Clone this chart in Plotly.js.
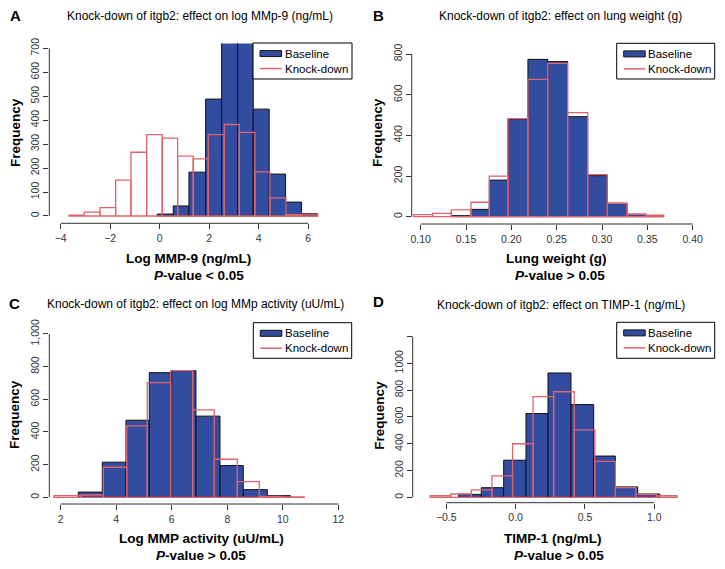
<!DOCTYPE html>
<html><head><meta charset="utf-8">
<script src="https://cdn.plot.ly/plotly-3.0.1.min.js"></script>
<style>html,body{margin:0;padding:0;background:#fff}</style>
</head><body><div id="chart" style="width:725px;height:569px"></div>
<script>
// ---------- DATA ----------
// Panel A: log MMP-9
const aBaseEdges = [-0.10, 0.548, 1.182, 1.856, 2.502, 3.149, 3.779, 4.425, 5.087, 5.733, 6.380];
const aBaseCounts = [8, 42, 183, 488, 780, 780, 446, 175, 58, 10];
const aKdEdges = [-3.665, -3.047, -2.413, -1.779, -1.161, -0.527, 0.103, 0.725, 1.355, 1.961, 2.607, 3.213, 3.847, 4.452, 5.098, 5.733, 6.380];
const aKdCounts = [4, 16, 35, 150, 266, 340, 325, 250, 238, 340, 382, 349, 184, 76, 6, 8];
const aXTicks = [-4, -2, 0, 2, 4, 6];
const aYTicks = [0, 100, 200, 300, 400, 500, 600, 700];
const aYTickText = ["0", "100", "200", "300", "400", "500", "600", "700"];

// Panel B: lung weight
const bBaseEdges = [0.1337, 0.1555, 0.1757, 0.1963, 0.2183, 0.2401, 0.2621, 0.2842, 0.3058, 0.3275, 0.3485, 0.368];
const bBaseCounts = [5, 36, 180, 480, 774, 763, 492, 202, 66, 12, 5];
const bKdEdges = [0.0923, 0.1132, 0.1337, 0.1555, 0.1757, 0.1963, 0.2183, 0.2401, 0.2621, 0.2842, 0.3058, 0.3275, 0.3485, 0.368];
const bKdCounts = [10, 16, 33, 71, 200, 482, 676, 754, 512, 207, 66, 12, 7];
const bXTicks = [0.10, 0.15, 0.20, 0.25, 0.30, 0.35, 0.40];
const bYTicks = [0, 200, 400, 600, 800];
const bYTickText = ["0", "200", "400", "600", "800"];

// Panel C: log MMP activity
const cBaseEdges = [2.634, 3.498, 4.351, 5.190, 5.997, 6.872, 7.736, 8.575, 9.440, 10.282];
const cBaseCounts = [32, 215, 472, 763, 775, 497, 194, 47, 10];
const cKdEdges = [1.759, 2.731, 3.534, 4.377, 5.118, 5.961, 6.753, 7.531, 8.359, 9.152, 9.955, 10.772];
const cKdCounts = [10, 14, 184, 437, 702, 775, 535, 233, 96, 6, 2];
const cXTicks = [2, 4, 6, 8, 10, 12];
const cYTicks = [0, 200, 400, 600, 800, 1000];
const cYTickText = ["0", "200", "400", "600", "800", "1,000"];

// Panel D: TIMP-1
const dBaseEdges = [-0.4106, -0.2476, -0.0861, 0.0747, 0.2334, 0.3992, 0.563, 0.7187, 0.8803, 1.0389];
const dBaseCounts = [22, 72, 277, 625, 928, 692, 308, 78, 25];
const dKdEdges = [-0.615, -0.467, -0.319, -0.171, -0.022, 0.126, 0.274, 0.423, 0.571, 0.719, 0.867, 1.016, 1.164];
const dKdCounts = [12, 25, 55, 160, 400, 752, 788, 503, 268, 72, 22, 12];
const dXTicks = [-0.5, 0.0, 0.5, 1.0];
const dXTickText = ["\u22120.5", "0.0", "0.5", "1.0"];
const dYTicks = [0, 200, 400, 600, 800, 1000, 1200];
const dYTickText = ["0", "200", "400", "600", "800", "1000", ""];

const seriesNames = ["Baseline", "Knock-down"];
const panelTitles = [
  "Knock-down of itgb2: effect on log MMp-9 (ng/mL)",
  "Knock-down of itgb2: effect on lung weight (g)",
  "Knock-down of itgb2: effect on log MMp activity (uU/mL)",
  "Knock-down of itgb2: effect on TIMP-1 (ng/mL)"
];
const xTitles = ["Log MMP-9 (ng/mL)", "Lung weight (g)", "Log MMP activity (uU/mL)", "TIMP-1 (ng/mL)"];
const pTexts = ["&lt; 0.05", "&gt; 0.05", "&gt; 0.05", "&gt; 0.05"];
const letters = ["A", "B", "C", "D"];

// ---------- STYLE / LAYOUT ----------
const W = 725, H = 569;
const FONT = "Liberation Sans, Arial, Helvetica, sans-serif";
const BLUE = "rgb(50,77,160)";
const RED = "rgb(222,100,108)";
const AX = "#333";
const LEGFONT = 11.5;

// pixel geometry of each plot region [left, right, top, bottom] and ranges
const panels = [
  {px:[49.3, 352, 43.5, 223.3], xr:[-4.46, 7.77], yr:[-30.5, 720],
   be:aBaseEdges, bc:aBaseCounts, ke:aKdEdges, kc:aKdCounts,
   xt:aXTicks, xtt:null, xfmt:"", yt:aYTicks, ytt:aYTickText,
   leg:[253, 43, 352, 79], title:[200, 16], letter:[15, 15], freq:[15, 133], xtitle:[188, 258.5], p:[199, 275]},
  {px:[411.7, 714.7, 43.3, 224], xr:[0.0901, 0.4243], yr:[-36, 853],
   be:bBaseEdges, bc:bBaseCounts, ke:bKdEdges, kc:bKdCounts,
   xt:bXTicks, xtt:null, xfmt:".2f", yt:bYTicks, ytt:bYTickText,
   leg:[616.7, 43.3, 714.7, 79], title:[560.5, 16], letter:[378.7, 15], freq:[377, 133], xtitle:[556, 258.5], p:[560, 275]},
  {px:[49.3, 351.7, 322.7, 504], xr:[1.59, 12.48], yr:[-41, 1069],
   be:cBaseEdges, bc:cBaseCounts, ke:cKdEdges, kc:cKdCounts,
   xt:cXTicks, xtt:null, xfmt:"", yt:cYTicks, ytt:cYTickText,
   leg:[253.3, 322.7, 351.7, 358.3], title:[196, 304], letter:[14, 303], freq:[14, 415], xtitle:[201.7, 538.5], p:[201.3, 555]},
  {px:[412.7, 714.7, 322.3, 502.7], xr:[-0.742, 1.4355], yr:[-40, 1306],
   be:dBaseEdges, bc:dBaseCounts, ke:dKdEdges, kc:dKdCounts,
   xt:dXTicks, xtt:dXTickText, xfmt:"", yt:dYTicks, ytt:dYTickText,
   leg:[616.7, 322.3, 714.7, 358.3], title:[561, 305], letter:[378.7, 302], freq:[378.7, 415], xtitle:[553.3, 538.5], p:[558.7, 555]}
];

function centers(e){ const c=[]; for(let i=0;i<e.length-1;i++) c.push((e[i]+e[i+1])/2); return c; }
function widths(e){ const w=[]; for(let i=0;i<e.length-1;i++) w.push(e[i+1]-e[i]); return w; }
const PX = x => x / W, PY = y => 1 - y / H;

const traces = [];
const layout = {
  width: W, height: H, margin:{l:0,r:0,t:0,b:0},
  paper_bgcolor:"#fff", plot_bgcolor:"rgba(0,0,0,0)",
  barmode:"overlay", bargap:0, showlegend:false,
  font:{family:FONT, color:"#000"},
  annotations:[], shapes:[]
};

panels.forEach((p, i) => {
  const n = i === 0 ? "" : String(i + 1);
  const xa = "x" + n, ya = "y" + n;
  traces.push({
    type:"bar", name:seriesNames[0], x:centers(p.be), y:p.bc, width:widths(p.be),
    xaxis:xa, yaxis:ya, showlegend:false,
    marker:{color:BLUE, line:{color:"#111", width:1}}, hoverinfo:"x+y"
  });
  traces.push({
    type:"bar", name:seriesNames[1], x:centers(p.ke), y:p.kc, width:widths(p.ke),
    xaxis:xa, yaxis:ya, showlegend:false,
    marker:{color:"rgba(0,0,0,0)", line:{color:RED, width:1.3}}, hoverinfo:"x+y"
  });

  const [l, r, t, b] = p.px;
  layout["xaxis" + n] = {
    domain:[l / W, r / W], range:p.xr, anchor:ya,
    showline:false, showgrid:false, zeroline:false,
    ticks:"outside", ticklen:5, tickwidth:1, tickcolor:AX,
    tickmode:"array", tickvals:p.xt, ticktext:p.xtt || undefined, tickformat:p.xfmt,
    tickfont:{family:FONT, size:10.5, color:AX}, fixedrange:true
  };
  layout["yaxis" + n] = {
    domain:[1 - b / H, 1 - t / H], range:p.yr, anchor:xa,
    showline:false, showgrid:false, zeroline:false,
    ticks:"outside", ticklen:5, tickwidth:1, tickcolor:AX,
    tickmode:"array", tickvals:p.yt, ticktext:p.ytt, tickangle:-90,
    tickfont:{family:FONT, size:10.5, color:AX}, fixedrange:true
  };
  // R-style axis lines spanning first..last tick
  layout.shapes.push({type:"line", xref:xa, yref:ya + " domain",
    x0:p.xt[0], x1:p.xt[p.xt.length - 1], y0:0, y1:0, line:{color:AX, width:1}});
  layout.shapes.push({type:"line", xref:xa + " domain", yref:ya,
    x0:0, x1:0, y0:p.yt[0], y1:p.yt[p.yt.length - 1], line:{color:AX, width:1}});

  // R-style legend box (key symbols as shapes, labels as one text block)
  const [gl, gt, gr, gb] = p.leg;
  const lh = LEGFONT * 1.3;
  const row1 = gt + 10.6, row2 = row1 + lh;
  layout.shapes.push({type:"rect", xref:"paper", yref:"paper",
    x0:PX(gl), x1:PX(gr), y0:PY(gb), y1:PY(gt), fillcolor:"#fff", line:{color:"#000", width:1}});
  layout.shapes.push({type:"rect", xref:"paper", yref:"paper",
    x0:PX(gl + 7), x1:PX(gl + 28.5), y0:PY(row1 + 3), y1:PY(row1 - 3),
    fillcolor:BLUE, line:{color:"#111", width:1}});
  layout.shapes.push({type:"line", xref:"paper", yref:"paper",
    x0:PX(gl + 7), x1:PX(gl + 28.5), y0:PY(row2), y1:PY(row2), line:{color:RED, width:1.5}});

  const A = (txt, x, y, size, extra) => Object.assign({
    text:txt, xref:"paper", yref:"paper", x:PX(x), y:PY(y),
    xanchor:"center", yanchor:"middle", showarrow:false,
    font:{family:FONT, size:size, color:"#000"}
  }, extra || {});
  layout.annotations.push(A(seriesNames.join("<br>"), gl + 30.5, (row1 + row2) / 2, LEGFONT,
    {xanchor:"left", align:"left", borderpad:0}));
  layout.annotations.push(A(panelTitles[i], p.title[0], p.title[1], 12));
  layout.annotations.push(A("<b>" + letters[i] + "</b>", p.letter[0], p.letter[1], 15));
  layout.annotations.push(A("<b>Frequency</b>", p.freq[0], p.freq[1], 13.5, {textangle:-90}));
  layout.annotations.push(A("<b>" + xTitles[i] + "</b>", p.xtitle[0], p.xtitle[1], 13.5));
  layout.annotations.push(A("<b><i>P</i>-value " + pTexts[i] + "</b>", p.p[0], p.p[1], 13.5));
});

Plotly.newPlot("chart", traces, layout, {displayModeBar:false, staticPlot:true});
</script>
</body></html>
